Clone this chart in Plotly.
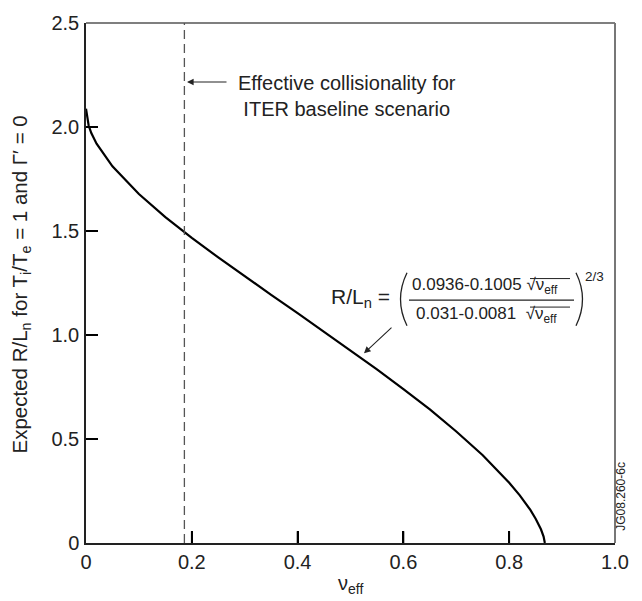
import plotly.graph_objects as go

# ---- data ----
nu_eff = [0.0, 0.005, 0.01, 0.02, 0.05, 0.10, 0.15, 0.20, 0.25, 0.30, 0.35, 0.40,
          0.45, 0.50, 0.55, 0.60, 0.65, 0.70, 0.75, 0.80, 0.82, 0.84, 0.85, 0.86,
          0.865, 0.8674]
rl_n = [2.088, 2.007, 1.971, 1.920, 1.811, 1.678, 1.567, 1.467, 1.373, 1.282, 1.193, 1.105,
        1.016, 0.927, 0.835, 0.740, 0.642, 0.536, 0.422, 0.290, 0.229, 0.159, 0.117, 0.066,
        0.031, 0.0]
iter_nu = 0.186
x_ticks = [0, 0.2, 0.4, 0.6, 0.8, 1.0]
x_ticktext = ["0", "0.2", "0.4", "0.6", "0.8", "1.0"]
y_ticks = [0, 0.5, 1.0, 1.5, 2.0, 2.5]
y_ticktext = ["0", "0.5", "1.0", "1.5", "2.0", "2.5"]

FONT = "Liberation Sans, Arial, sans-serif"
FS = 20
L, R, T, B = 86, 27, 14, 58
W, H = 642, 601
PW, PH = W - L - R, H - T - B
TICK = 12


def px(x):
    return (x - L) / PW


def py(y):
    return (H - B - y) / PH


fig = go.Figure()
fig.add_trace(go.Scatter(x=nu_eff, y=rl_n, mode="lines",
                         line=dict(color="black", width=2.2), hoverinfo="skip",
                         showlegend=False, cliponaxis=False))

shapes = []
# inside tick marks
for xv in x_ticks[1:-1]:
    shapes.append(dict(type="line", xref="x", yref="paper", x0=xv, x1=xv,
                       y0=0, y1=TICK / PH, line=dict(color="black", width=1.8)))
for yv in y_ticks[1:-1]:
    shapes.append(dict(type="line", xref="paper", yref="y", x0=0, x1=TICK / PW,
                       y0=yv, y1=yv, line=dict(color="black", width=1.8)))
# vertical dashed line
shapes.append(dict(type="line", xref="x", yref="paper", x0=iter_nu, x1=iter_nu, y0=0, y1=1,
                   line=dict(color="#555", width=1.3, dash="9px,5px")))
# top and right borders
shapes.append(dict(type="line", xref="paper", yref="paper", x0=0, x1=1, y0=1, y1=1,
                   line=dict(color="#555", width=1.5)))
shapes.append(dict(type="line", xref="paper", yref="paper", x0=1, x1=1, y0=0, y1=1,
                   line=dict(color="#777", width=2)))

# formula decorations: fraction bar, parentheses, sqrt overlines
shapes.append(dict(type="line", xref="paper", yref="paper", x0=px(409), x1=px(574),
                   y0=py(296), y1=py(296), line=dict(color="#222", width=1.2)))
shapes.append(dict(type="path", xref="paper", yref="paper",
                   path=f"M {px(407)},{py(268)} Q {px(394)},{py(295)} {px(407)},{py(322)}",
                   line=dict(color="#222", width=1.3)))
shapes.append(dict(type="path", xref="paper", yref="paper",
                   path=f"M {px(576)},{py(268)} Q {px(589)},{py(295)} {px(576)},{py(322)}",
                   line=dict(color="#222", width=1.3)))
for (xa, xb, yy) in [(530, 570, 274), (530, 570, 303)]:
    shapes.append(dict(type="line", xref="paper", yref="paper", x0=px(xa), x1=px(xb),
                       y0=py(yy), y1=py(yy), line=dict(color="#222", width=1)))

annotations = []
# axis titles
annotations.append(dict(xref="paper", yref="paper", x=px(21), y=py(280),
                        text="Expected R/L<sub>n</sub> for T<sub>i</sub>/T<sub>e</sub> = 1 and Γ′ = 0",
                        showarrow=False, textangle=-90,
                        font=dict(size=20.5, color="#222", family=FONT),
                        xanchor="center", yanchor="middle"))
annotations.append(dict(xref="paper", yref="paper", x=px(350), y=py(585),
                        text="ν<sub>eff</sub>", showarrow=False,
                        font=dict(size=FS, color="#222", family=FONT),
                        xanchor="center", yanchor="middle"))
# ITER label and arrow
annotations.append(dict(xref="paper", yref="paper", x=px(347), y=py(88),
                        text="Effective collisionality for<br>ITER baseline scenario",
                        showarrow=False, font=dict(size=FS, color="#222", family=FONT),
                        align="center", xanchor="center", yanchor="middle"))
annotations.append(dict(xref="paper", yref="paper", x=px(187), y=py(74),
                        ax=41, ay=0, axref="pixel", ayref="pixel",
                        text="", showarrow=True, arrowhead=2, arrowsize=1.2,
                        arrowwidth=1.1, arrowcolor="#222"))
# formula
annotations.append(dict(xref="paper", yref="paper", x=px(392), y=py(294),
                        text="R/L<sub>n</sub> =", showarrow=False,
                        font=dict(size=21, color="#222", family=FONT),
                        xanchor="right", yanchor="middle"))
annotations.append(dict(xref="paper", yref="paper", x=px(410), y=py(282),
                        text="0.0936-0.1005 √ν<sub>eff</sub>", showarrow=False,
                        font=dict(size=17, color="#222", family=FONT),
                        xanchor="left", yanchor="middle"))
annotations.append(dict(xref="paper", yref="paper", x=px(414), y=py(311),
                        text="0.031-0.0081  √ν<sub>eff</sub>", showarrow=False,
                        font=dict(size=17, color="#222", family=FONT),
                        xanchor="left", yanchor="middle"))
annotations.append(dict(xref="paper", yref="paper", x=px(583), y=py(272),
                        text="2/3", showarrow=False,
                        font=dict(size=13.5, color="#222", family=FONT),
                        xanchor="left", yanchor="middle"))
annotations.append(dict(xref="paper", yref="paper", x=px(364), y=py(350),
                        ax=29, ay=-27, axref="pixel", ayref="pixel",
                        text="", showarrow=True, arrowhead=2, arrowsize=1.2,
                        arrowwidth=1.1, arrowcolor="#222"))
# figure code
annotations.append(dict(xref="paper", yref="paper", x=px(621), y=py(496),
                        text="JG08.260-6c", showarrow=False, textangle=-90,
                        font=dict(size=12, color="#222", family=FONT),
                        xanchor="center", yanchor="middle"))

fig.update_layout(
    width=W, height=H,
    margin=dict(l=L, r=R, t=T, b=B),
    paper_bgcolor="white", plot_bgcolor="white",
    font=dict(family=FONT, color="#222", size=FS),
    showlegend=False,
    shapes=shapes, annotations=annotations,
    xaxis=dict(range=[0, 1], tickvals=x_ticks, ticktext=x_ticktext,
               ticks="inside", ticklen=TICK, tickwidth=1.5, tickcolor="black",
               showline=True, linecolor="#222", linewidth=1.5, showgrid=False,
               zeroline=False, tickfont=dict(size=FS)),
    yaxis=dict(range=[0, 2.5], tickvals=y_ticks, ticktext=y_ticktext,
               ticks="inside", ticklen=TICK, tickwidth=1.5, tickcolor="black",
               showline=True, linecolor="#222", linewidth=1.5, showgrid=False,
               zeroline=False, tickfont=dict(size=FS), ticklabelstandoff=1),
)

fig.write_html("out.html")
